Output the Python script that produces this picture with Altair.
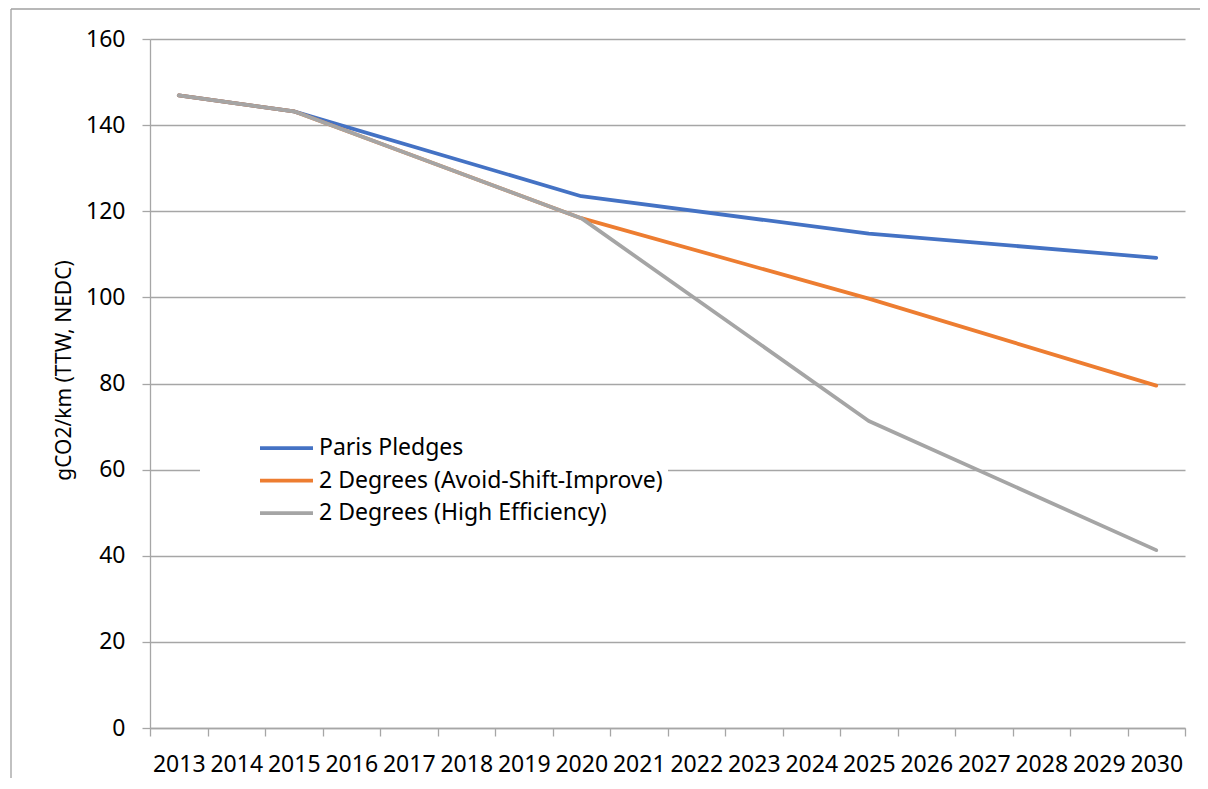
import altair as alt
import pandas as pd

# ---- data ----
all_years = ["2013", "2014", "2015", "2016", "2017", "2018", "2019", "2020", "2021",
             "2022", "2023", "2024", "2025", "2026", "2027", "2028", "2029", "2030"]
point_years = ["2013", "2015", "2020", "2025", "2030"]
series_names = ["Paris Pledges", "2 Degrees (Avoid-Shift-Improve)", "2 Degrees (High Efficiency)"]
paris = [146.9, 143.2, 123.5, 114.8, 109.2]
avoid_shift_improve = [146.9, 143.2, 118.4, 99.7, 79.5]
high_efficiency = [146.9, 143.2, 118.4, 71.3, 41.3]
y_ticks = [0, 20, 40, 60, 80, 100, 120, 140, 160]
colors = ["#4472C4", "#ED7D31", "#A5A5A5"]

rows = []
for name, vals in zip(series_names, [paris, avoid_shift_improve, high_efficiency]):
    for yr, v in zip(point_years, vals):
        rows.append({"year": yr, "value": v, "series": name})
df = pd.DataFrame(rows)

FONT = "Noto Sans"
GRID = "#a6a6a6"

W, H = 1035, 689

lines = alt.Chart(df).mark_line(strokeWidth=3.75, strokeCap="round", strokeJoin="round").encode(
    x=alt.X("year:N", bandPosition=0.5,
            scale=alt.Scale(type="band", domain=all_years, paddingInner=0, paddingOuter=0),
            axis=alt.Axis(title=None, labelAngle=0, labelFontSize=23, labelFont=FONT,
                          labelColor="#000000", labelPadding=17, labelOverlap=False,
                          tickBand="extent", tickSize=8, tickColor=GRID, tickWidth=1.3,
                          domainColor=GRID, domainWidth=1.3, grid=False)),
    y=alt.Y("value:Q",
            scale=alt.Scale(domain=[0, 160], nice=False, zero=True),
            axis=alt.Axis(values=y_ticks, title="gCO2/km (TTW, NEDC)",
                          titleFont=FONT, titleFontSize=21, titleFontWeight="normal",
                          titleColor="#000000", titleAngle=270, titleAlign="center",
                          titleBaseline="middle", titleX=-86, titleY=331,
                          labelFontSize=23, labelFont=FONT, labelColor="#000000",
                          labelPadding=17, tickSize=8, tickColor=GRID, tickWidth=1.3,
                          domainColor=GRID, domainWidth=1.3,
                          grid=True, gridColor=GRID, gridWidth=1.3)),
    color=alt.Color("series:N",
                    scale=alt.Scale(domain=series_names, range=colors),
                    legend=alt.Legend(title=None, orient="none", legendX=50, legendY=392.5,
                                      direction="vertical",
                                      symbolType="M-3,0H3", symbolSize=312,
                                      symbolStrokeWidth=3.75, symbolOffset=70,
                                      labelOffset=21, labelFont=FONT, labelFontSize=23,
                                      labelColor="#000000", labelLimit=1000,
                                      labelExpr="datum.label + '\u00a0\u00a0\u00a0\u00a0\u00a0\u00a0\u00a0\u00a0'",
                                      rowPadding=8.5, padding=5, fillColor="#ffffff")),
    order=alt.Order("year:N"),
)

frame_data = alt.Data(values=[{"k": 1}])
frame_left = alt.Chart(frame_data).mark_rule(color="#a0a0a0", strokeWidth=1.3).encode(
    x=alt.value(-139), y=alt.value(-30), y2=alt.value(760))
frame_top = alt.Chart(frame_data).mark_rule(color="#a0a0a0", strokeWidth=1.3).encode(
    x=alt.value(-139), x2=alt.value(1060), y=alt.value(-30))

chart = alt.layer(frame_left, frame_top, lines).properties(
    width=W, height=H,
    autosize=alt.AutoSizeParams(type="none"),
    padding={"left": 142, "top": 31, "right": 15, "bottom": 50},
    background="#ffffff",
).configure_view(stroke=None)

chart.save("out.html", embed_options={"renderer": "svg", "actions": False})
